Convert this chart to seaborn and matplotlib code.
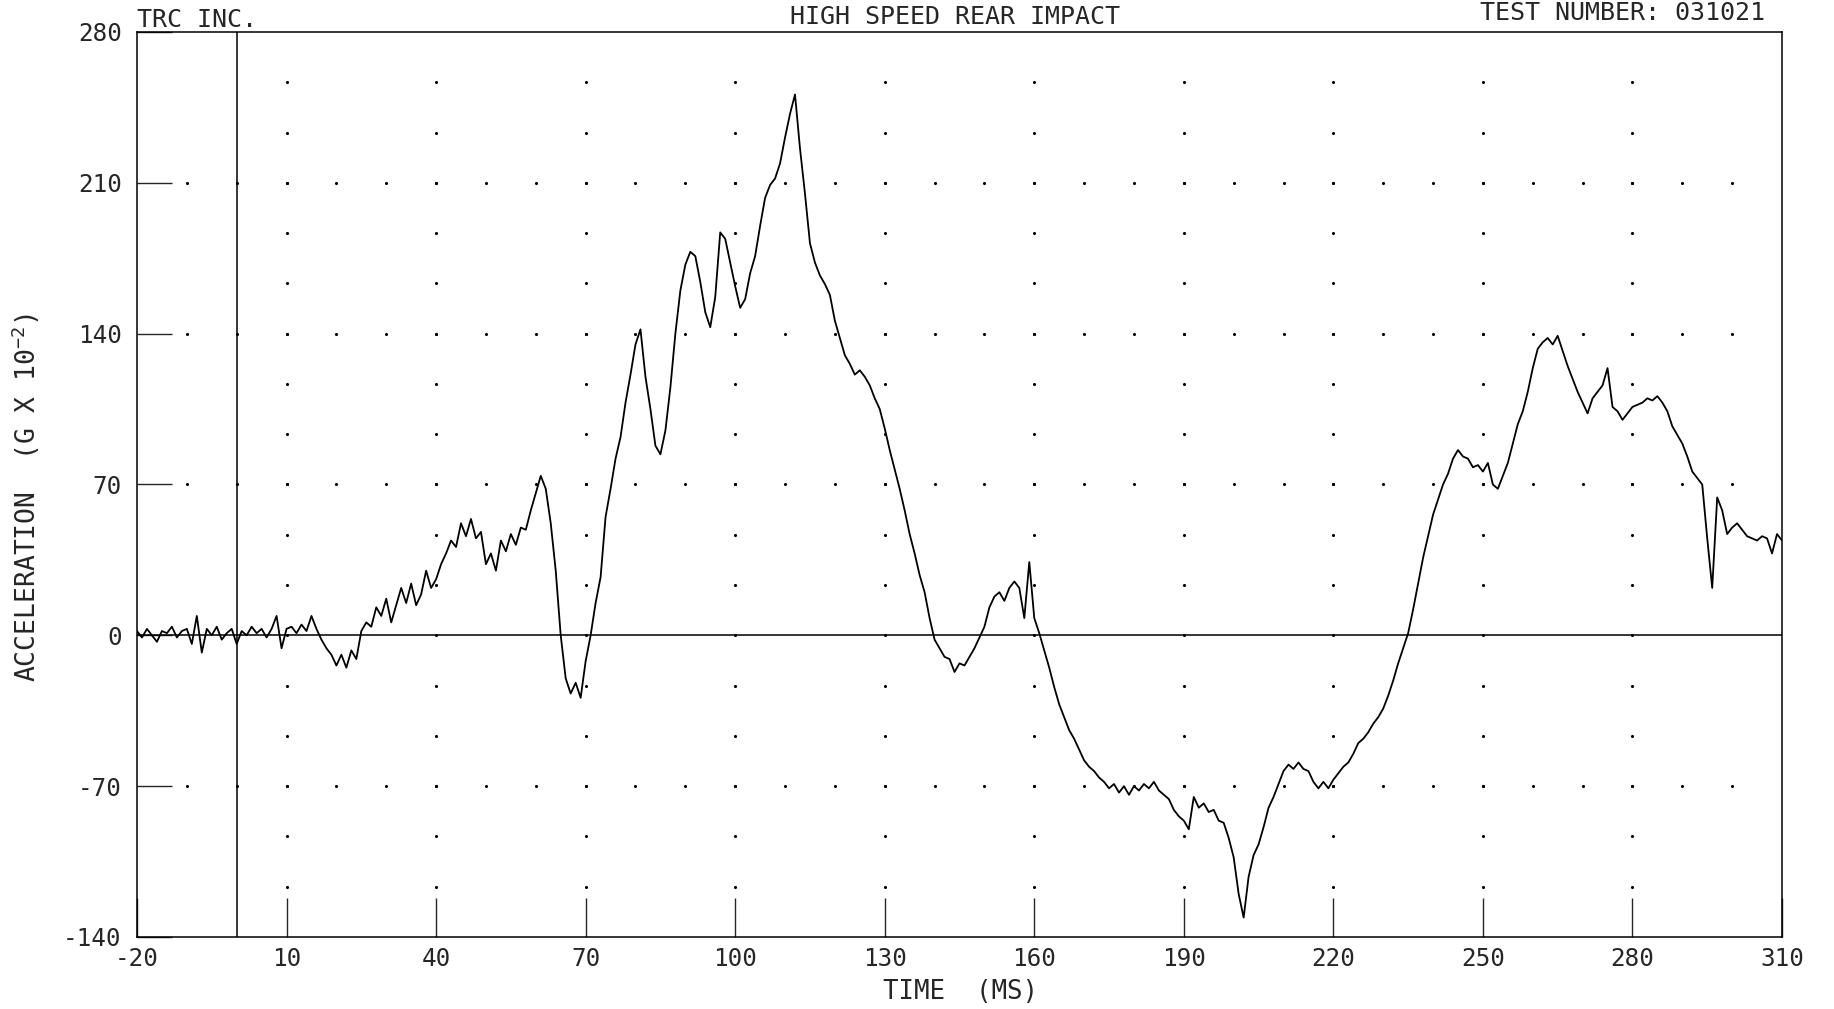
import numpy as np
import matplotlib
matplotlib.use("Agg")
import matplotlib.pyplot as plt
import seaborn as sns

# acceleration trace, 1 ms samples from -20 to 310 ms
time_ms = np.arange(-20, 311)
accel = [
    2, -1, 3, 0, -3, 2, 1, 4, -1, 2,            # -20
    3, -4, 9, -8, 3, 0, 4, -2, 1, 3,            # -10
    -4, 2, 0, 4, 1, 3, -1, 3, 9, -6,            # 0
    3, 4, 1, 5, 2, 9, 3, -2, -6, -9,            # 10
    -14, -9, -15, -7, -11, 2, 6, 4, 13, 9,      # 20
    17, 6, 14, 22, 15, 24, 14, 19, 30, 22,      # 30
    26, 33, 38, 44, 41, 52, 46, 54, 45, 48,     # 40
    33, 38, 30, 44, 39, 47, 42, 50, 49, 58,     # 50
    66, 74, 68, 52, 30, 0, -20, -27, -22, -29,  # 60
    -12, 0, 15, 27, 55, 68, 82, 92, 108, 121,   # 70
    135, 142, 120, 105, 88, 84, 95, 115, 140, 160,   # 80
    172, 178, 176, 164, 150, 143, 157, 187, 184, 173,  # 90
    162, 152, 156, 168, 176, 190, 203, 209, 212, 219,  # 100
    231, 242, 251, 226, 205, 182, 173, 167, 163, 158,  # 110
    146, 138, 130, 126, 121, 123, 120, 116, 110, 105,  # 120
    96, 86, 77, 68, 58, 47, 38, 28, 20, 8,      # 130
    -2, -6, -10, -11, -17, -13, -14, -10, -6, -1,    # 140
    4, 13, 18, 20, 16, 22, 25, 22, 8, 34,       # 150
    8, 1, -7, -15, -24, -32, -38, -44, -48, -53,     # 160
    -58, -61, -63, -66, -68, -71, -69, -73, -70, -74,  # 170
    -70, -72, -69, -71, -68, -72, -74, -76, -81, -84,  # 180
    -86, -90, -75, -80, -78, -82, -81, -86, -87, -94,  # 190
    -103, -120, -131, -112, -102, -97, -89, -80, -75, -69,  # 200
    -63, -60, -62, -59, -62, -63, -68, -71, -68, -71,  # 210
    -67, -64, -61, -59, -55, -50, -48, -45, -41, -38,  # 220
    -34, -28, -21, -13, -6, 1, 12, 24, 36, 46,  # 230
    56, 63, 70, 75, 82, 86, 83, 82, 78, 79,     # 240
    76, 80, 70, 68, 74, 80, 89, 98, 104, 113,   # 250
    124, 133, 136, 138, 135, 139, 132, 125, 119, 113,  # 260
    108, 103, 110, 113, 116, 124, 106, 104, 100, 103,  # 270
    106, 107, 108, 110, 109, 111, 108, 104, 97, 93,    # 280
    89, 83, 76, 73, 70, 45, 22, 64, 58, 47,     # 290
    50, 52, 49, 46, 45, 44, 46, 45, 38, 47, 44,  # 300
]

x_ticks = [-20, 10, 40, 70, 100, 130, 160, 190, 220, 250, 280, 310]
y_ticks = [-140, -70, 0, 70, 140, 210, 280]
dot_cols = [10, 40, 70, 100, 130, 160, 190, 220, 250, 280]
dot_rows = [-70, 70, 140, 210]

sns.set_style("white")
plt.rcParams["font.family"] = ["DejaVu Sans Mono"]
plt.rcParams["axes.unicode_minus"] = False
plt.rcParams["mathtext.fontset"] = "custom"
plt.rcParams["mathtext.rm"] = "DejaVu Sans Mono"

fig = plt.figure(figsize=(18.34, 10.09), dpi=100)
ax = fig.add_axes([137 / 1834, 72 / 1009, (1782 - 137) / 1834, (937 - 32) / 1009])

# dotted grid: rows of dots every 10 ms, columns every 70/3 units
row_x = np.arange(-10, 301, 10)
rx, ry = np.meshgrid(row_x, dot_rows)
ax.scatter(rx.ravel(), ry.ravel(), s=5, color="black", lw=0, zorder=1)
col_y = np.linspace(-140, 280, 19)[1:-1]
cx, cy = np.meshgrid(dot_cols, col_y)
ax.scatter(cx.ravel(), cy.ravel(), s=5, color="black", lw=0, zorder=1)

ax.axhline(0, color="black", lw=1.1, zorder=2)
ax.axvline(0, color="black", lw=1.1, zorder=2)

sns.lineplot(x=time_ms, y=accel, color="black", lw=1.3, ax=ax, zorder=3)

ax.set_xlim(-20, 310)
ax.set_ylim(-140, 280)
ax.set_xticks(x_ticks)
ax.set_yticks(y_ticks)
ax.set_xticklabels([str(v) for v in x_ticks])
ax.set_yticklabels([str(v) for v in y_ticks])
ax.tick_params(axis="y", direction="in", length=25, width=1.0, pad=11,
               labelsize=17.5, left=True)
ax.tick_params(axis="x", direction="in", length=28, width=1.0, pad=7,
               labelsize=17.5, bottom=True)
for s in ax.spines.values():
    s.set_color("black")
    s.set_linewidth(1.1)
ax.set_xlabel("")
ax.set_ylabel("")

fig.text(26 / 1834, 1 - 497 / 1009, "ACCELERATION  (G X 10$^{\\mathregular{-2}}$)",
         rotation=90, ha="center", va="center", fontsize=19)
fig.text(960 / 1834, 1 - 992 / 1009, "TIME  (MS)", ha="center", va="center",
         fontsize=18.5)
fig.text(137 / 1834, 1 - 27 / 1009, "TRC INC.", ha="left", va="baseline",
         fontsize=18)
fig.text(955 / 1834, 1 - 24 / 1009, "HIGH SPEED REAR IMPACT", ha="center",
         va="baseline", fontsize=18)
fig.text(1765 / 1834, 1 - 20 / 1009, "TEST NUMBER: 031021", ha="right",
         va="baseline", fontsize=18)

fig.savefig("out.png", dpi=100, facecolor="white")
plt.close(fig)
